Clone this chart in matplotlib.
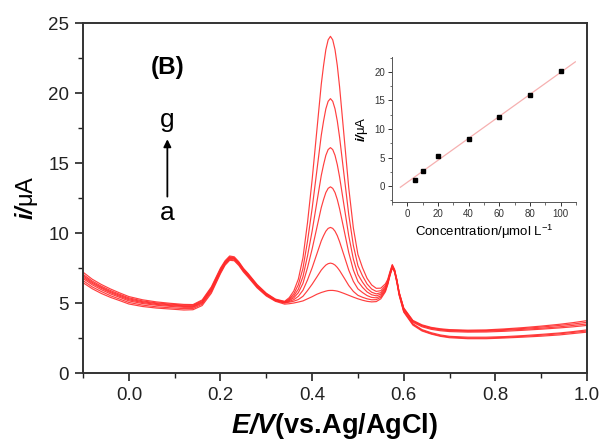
import numpy as np
import matplotlib
matplotlib.use("Agg")
import matplotlib.pyplot as plt
from matplotlib.ticker import MultipleLocator

plt.rcParams['font.family'] = ['Liberation Sans', 'DejaVu Sans']
plt.rcParams['mathtext.fontset'] = 'custom'
plt.rcParams['mathtext.rm'] = 'Liberation Sans'
plt.rcParams['mathtext.it'] = 'Liberation Sans:italic'
plt.rcParams['mathtext.bf'] = 'Liberation Sans:bold'
plt.rcParams['mathtext.bfit'] = 'Liberation Sans:bold:italic'

# DPV scans, potential (V vs Ag/AgCl) and current (uA), curves a..g
E_V = [-0.10, -0.08, -0.06, -0.04, -0.02, 0.00, 0.03, 0.06, 0.09, 0.12, 0.14,
       0.16, 0.18, 0.20, 0.21, 0.22, 0.23, 0.24, 0.25, 0.26, 0.28, 0.30, 0.32,
       0.34, 0.35, 0.36, 0.37, 0.38, 0.39, 0.40, 0.41, 0.42, 0.425, 0.43, 0.435,
       0.44, 0.445, 0.45, 0.455, 0.46, 0.47, 0.48, 0.49, 0.50, 0.51, 0.52, 0.53,
       0.54, 0.55, 0.56, 0.565, 0.57, 0.575,
       0.58, 0.585, 0.59, 0.60, 0.62, 0.64, 0.66, 0.68, 0.70, 0.74, 0.78, 0.82,
       0.86, 0.90, 0.94, 0.97, 1.00]

i_a = [6.45, 6.02, 5.68, 5.40, 5.17, 4.93, 4.75, 4.64, 4.57, 4.50, 4.52,
       4.82, 5.70, 7.10, 7.70, 8.05, 8.02, 7.68, 7.22, 6.85, 6.08, 5.50, 5.12,
       4.92, 4.95, 5.00, 5.07, 5.15, 5.30, 5.45, 5.62, 5.75, 5.80, 5.85, 5.89,
       5.90, 5.90, 5.88, 5.85, 5.80, 5.68, 5.55, 5.42, 5.30, 5.20, 5.12, 5.08,
       5.10, 5.30, 5.80, 6.30, 6.95, 7.50,
       7.20, 6.45, 5.55, 4.35, 3.42, 3.00, 2.78, 2.62, 2.52, 2.45, 2.45, 2.50,
       2.56, 2.63, 2.72, 2.82, 2.92]
i_b = [6.60, 6.15, 5.82, 5.52, 5.28, 5.04, 4.85, 4.73, 4.66, 4.60, 4.61,
       4.92, 5.80, 7.18, 7.76, 8.12, 8.08, 7.74, 7.28, 6.92, 6.13, 5.55, 5.16,
       5.00, 5.06, 5.13, 5.25, 5.48, 5.89, 6.34, 6.84, 7.35, 7.54, 7.71, 7.81,
       7.85, 7.81, 7.71, 7.54, 7.32, 6.79, 6.25, 5.83, 5.55, 5.41, 5.30, 5.23,
       5.24, 5.41, 5.88, 6.35, 7.00, 7.55,
       7.25, 6.50, 5.60, 4.40, 3.48, 3.05, 2.82, 2.66, 2.57, 2.50, 2.50, 2.55,
       2.62, 2.70, 2.80, 2.90, 3.00]
i_c = [6.75, 6.30, 5.95, 5.65, 5.40, 5.15, 4.96, 4.84, 4.76, 4.69, 4.69,
       5.00, 5.90, 7.25, 7.82, 8.18, 8.14, 7.80, 7.34, 6.98, 6.18, 5.58, 5.18,
       5.02, 5.11, 5.24, 5.48, 5.91, 6.65, 7.51, 8.47, 9.44, 9.81, 10.13, 10.33,
       10.40, 10.33, 10.13, 9.81, 9.38, 8.37, 7.35, 6.55, 6.01, 5.75, 5.53, 5.40,
       5.37, 5.51, 5.96, 6.40, 7.03, 7.55,
       7.28, 6.55, 5.62, 4.45, 3.52, 3.10, 2.88, 2.72, 2.62, 2.56, 2.56, 2.60,
       2.67, 2.76, 2.86, 2.96, 3.08]
i_d = [6.85, 6.40, 6.05, 5.74, 5.48, 5.23, 5.03, 4.90, 4.82, 4.75, 4.74,
       5.05, 5.95, 7.30, 7.86, 8.22, 8.17, 7.83, 7.37, 7.00, 6.20, 5.60, 5.20,
       5.04, 5.17, 5.37, 5.74, 6.40, 7.53, 8.85, 10.33, 11.82, 12.39, 12.89, 13.19,
       13.30, 13.19, 12.89, 12.39, 11.73, 10.17, 8.60, 7.36, 6.54, 6.12, 5.79, 5.59,
       5.51, 5.63, 6.05, 6.46, 7.07, 7.60,
       7.30, 6.60, 5.70, 4.55, 3.62, 3.30, 3.12, 3.02, 2.96, 2.92, 2.93, 2.98,
       3.05, 3.13, 3.22, 3.30, 3.40]
i_e = [6.95, 6.48, 6.12, 5.81, 5.55, 5.30, 5.09, 4.96, 4.87, 4.80, 4.79,
       5.10, 6.02, 7.36, 7.90, 8.26, 8.20, 7.86, 7.40, 7.04, 6.24, 5.64, 5.22,
       5.06, 5.22, 5.50, 5.99, 6.88, 8.37, 10.13, 12.12, 14.11, 14.88, 15.55, 15.96,
       16.10, 15.96, 15.55, 14.88, 14.00, 11.90, 9.80, 8.14, 7.04, 6.49, 6.04, 5.77,
       5.65, 5.74, 6.13, 6.52, 7.12, 7.65,
       7.33, 6.62, 5.72, 4.60, 3.68, 3.36, 3.18, 3.08, 3.02, 2.98, 2.99, 3.05,
       3.12, 3.20, 3.30, 3.40, 3.50]
i_f = [7.05, 6.57, 6.20, 5.89, 5.62, 5.37, 5.15, 5.01, 4.92, 4.85, 4.84,
       5.16, 6.08, 7.42, 7.95, 8.30, 8.24, 7.90, 7.44, 7.08, 6.28, 5.67, 5.25,
       5.09, 5.29, 5.65, 6.31, 7.47, 9.42, 11.74, 14.36, 16.98, 18.00, 18.87, 19.41,
       19.60, 19.41, 18.87, 18.00, 16.84, 14.07, 11.31, 9.12, 7.67, 6.94, 6.36, 6.00,
       5.83, 5.88, 6.24, 6.59, 7.17, 7.70,
       7.36, 6.65, 5.75, 4.62, 3.72, 3.40, 3.22, 3.12, 3.06, 3.02, 3.03, 3.10,
       3.18, 3.28, 3.40, 3.50, 3.62]
i_g = [7.20, 6.70, 6.32, 6.00, 5.72, 5.46, 5.23, 5.08, 4.98, 4.90, 4.89,
       5.22, 6.15, 7.50, 8.02, 8.36, 8.30, 7.95, 7.48, 7.12, 6.32, 5.70, 5.28,
       5.12, 5.38, 5.86, 6.71, 8.23, 10.75, 13.79, 17.21, 20.63, 21.96, 23.10, 23.80,
       24.05, 23.80, 23.10, 21.96, 20.44, 16.83, 13.22, 10.37, 8.47, 7.52, 6.76, 6.29,
       6.05, 6.06, 6.37, 6.68, 7.24, 7.75,
       7.40, 6.68, 5.78, 4.65, 3.76, 3.44, 3.26, 3.16, 3.10, 3.06, 3.08, 3.15,
       3.24, 3.35, 3.48, 3.60, 3.74]

# calibration: peak current vs concentration (umol/L)
conc = [5, 10, 20, 40, 60, 80, 100]
ip = [1.05, 2.7, 5.25, 8.3, 12.05, 15.9, 20.1]

curves = [i_a, i_b, i_c, i_d, i_e, i_f, i_g]

fig = plt.figure(figsize=(6.02, 4.43), dpi=100)
ax = fig.add_axes([0.138, 0.158, 0.837, 0.79])

for y in curves:
    ax.plot(E_V, y, color='#ff2a2a', lw=0.85, alpha=0.9)

ax.set_xlim(-0.1, 1.0)
ax.set_ylim(0, 25)
ax.xaxis.set_major_locator(MultipleLocator(0.2))
ax.xaxis.set_minor_locator(MultipleLocator(0.1))
ax.yaxis.set_major_locator(MultipleLocator(5))
ax.yaxis.set_minor_locator(MultipleLocator(2.5))
ax.set_xticks([0.0, 0.2, 0.4, 0.6, 0.8, 1.0])
ax.set_xticklabels(['0.0', '0.2', '0.4', '0.6', '0.8', '1.0'])
ax.tick_params(which='major', direction='out', length=6, width=1.2,
               labelsize=13.5, pad=4, colors='#222222')
ax.tick_params(which='minor', direction='out', length=3.5, width=1.0,
               colors='#222222')
for s in ax.spines.values():
    s.set_linewidth(1.4)
    s.set_color('#333333')

ax.set_xlabel(r'$\mathbfit{E/V}$(vs.Ag/AgCl)', fontsize=19.5, fontweight='bold',
              labelpad=5)
ax.set_ylabel(r'$\mathbfit{i/}$μA', fontsize=17, labelpad=6)

ax.text(0.084, 21.8, '(B)', fontsize=17.5, fontweight='bold', ha='center',
        va='center')
ax.text(0.084, 17.6, 'g', fontsize=19, ha='center', va='baseline')
ax.text(0.084, 10.9, 'a', fontsize=19, ha='center', va='baseline')
ax.annotate('', xy=(0.084, 16.7), xytext=(0.084, 12.6),
            arrowprops=dict(arrowstyle='-|>', lw=1.3, color='black',
                            mutation_scale=11, shrinkA=0, shrinkB=0))

# inset calibration plot
ins = fig.add_axes([0.651, 0.544, 0.306, 0.327])
slope, icpt = np.polyfit(conc, ip, 1)
xf = np.array([-4.5, 109.5])
ins.plot(xf, slope * xf + icpt, color='#f6b0b0', lw=0.9)
ins.plot(conc, ip, 's', color='black', ms=2.2)
ins.set_xlim(-10, 110)
ins.set_ylim(-2.8, 22.6)
ins.xaxis.set_major_locator(MultipleLocator(20))
ins.xaxis.set_minor_locator(MultipleLocator(10))
ins.yaxis.set_major_locator(MultipleLocator(5))
ins.yaxis.set_minor_locator(MultipleLocator(2.5))
ins.spines['top'].set_visible(False)
ins.spines['right'].set_visible(False)
for s in ['left', 'bottom']:
    ins.spines[s].set_linewidth(0.7)
    ins.spines[s].set_color('#555555')
ins.tick_params(which='major', direction='out', length=3, width=0.7,
                labelsize=7, pad=2, colors='#333333')
ins.tick_params(which='minor', direction='out', length=1.8, width=0.6,
                colors='#555555')
ins.patch.set_alpha(0)
ins.set_xlabel('Concentration/μmol L$^{-1}$', fontsize=9.5, labelpad=3)
ins.set_ylabel(r'$\mathbfit{i/}$μA', fontsize=9.5, labelpad=3)

fig.savefig('out.png', dpi=100)
